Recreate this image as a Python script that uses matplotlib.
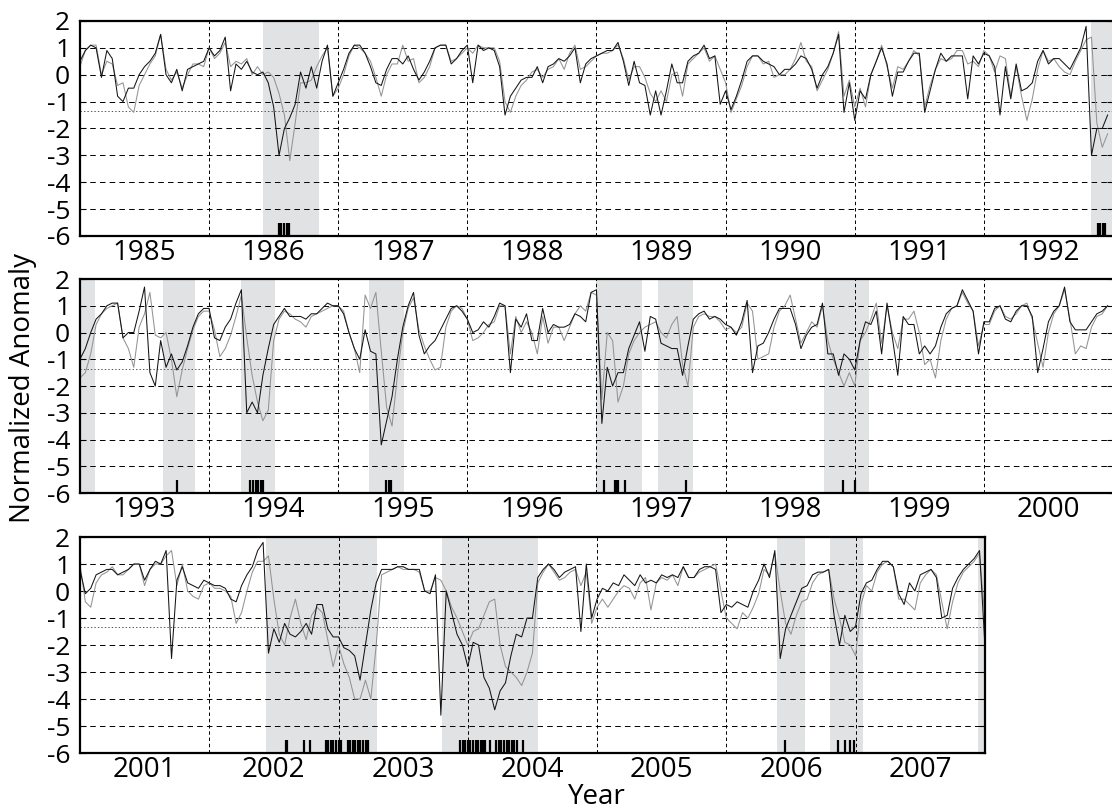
import numpy as np
import matplotlib
matplotlib.use('Agg')
import matplotlib.pyplot as plt

plt.rcParams['font.family'] = ['Open Sans', 'DejaVu Sans']
plt.rcParams['axes.unicode_minus'] = False
plt.rcParams['lines.scale_dashes'] = False

PER_YEAR = 24  # semi-monthly samples

# --- panel 1: 1985-1992 ---
black1 = [
    0.5, 0.9, 1.1, 1.0, -0.1, 0.9, 0.6, -0.8, -1.0, -0.5, -0.5, 0.0, 0.3, 0.5, 0.8, 1.5, 0.0, -0.3, 0.2, -0.6, 0.2, 0.3, 0.4, 0.5,
    1.0, 0.7, 0.9, 1.4, -0.6, 0.4, 0.2, 0.5, 0.1, 0.0, 0.1, -0.3, -1.2, -3.0, -2.0, -1.6, -1.1, 0.1, -0.5, 0.3, -0.5, 0.5, 1.1, -0.8,
    -0.3, 0.2, 0.8, 1.1, 1.1, 0.8, 0.3, -0.3, -0.4, 0.2, 0.6, 0.6, 0.4, 0.7, 0.2, -0.2, 0.1, 0.5, 1.0, 1.1, 1.1, 0.4, 0.6, 0.9,
    1.1, -0.3, 1.1, 0.9, 1.0, 0.9, 0.3, -1.5, -0.8, -0.5, -0.2, -0.1, -0.1, 0.3, -0.3, 0.3, 0.4, 0.6, 0.5, 0.7, 1.0, -0.3, 0.4, 0.6,
    0.7, 0.8, 0.9, 0.9, 1.2, 0.5, -0.4, 0.5, -0.3, -0.4, -1.5, -0.6, -1.5, -0.6, 0.4, -0.3, -0.3, 0.5, 0.7, 0.8, 1.1, 0.6, 0.7, -1.1,
    -0.6, -1.3, -0.8, -0.2, 0.5, 0.7, 0.7, 0.5, 0.4, 0.3, 0.0, 0.2, 0.2, 0.4, 0.7, 0.6, 0.2, -0.5, 0.0, 0.3, 0.8, 1.5, -1.4, -0.3,
    -1.7, -0.6, -0.9, 0.0, 0.5, 1.0, 0.4, -0.8, 0.1, 0.1, 0.5, 0.8, 0.8, -1.4, -0.6, 0.2, 0.8, 0.5, 0.7, 0.7, 0.7, -0.9, 0.7, 0.4,
    0.8, 0.7, 0.3, -1.5, 0.3, -0.9, 0.4, -0.6, -0.5, -0.3, 0.5, 0.9, 0.4, 0.6, 0.6, 0.4, 0.2, 0.6, 1.0, 1.8, -3.0, -2.0, -2.0, -1.5,
]
gray1 = [
    0.3, 0.9, 1.1, 1.1, 0.0, 0.5, 0.4, -0.4, -0.3, -1.2, -1.4, -0.4, 0.0, 0.4, 0.7, 1.5, 0.2, -0.2, 0.1, -0.5, 0.0, 0.4, 0.4, 0.3,
    1.0, 0.6, 0.8, 1.2, 0.3, 0.5, 0.4, 0.6, 0.0, 0.3, 0.0, 0.1, -0.1, -0.7, -1.5, -3.2, -1.8, -0.3, -0.3, -0.2, 0.3, 0.7, 1.0, -0.8,
    -0.5, 0.0, 0.7, 1.1, 1.0, 0.8, 0.5, -0.1, -0.8, 0.0, 0.4, 0.4, 1.1, 0.5, 0.6, -0.3, -0.1, 0.3, 1.0, 1.1, 1.1, 0.5, 0.6, 0.8,
    1.0, 0.8, 1.1, 1.0, 1.0, 1.0, 0.5, -1.0, -1.4, -0.8, -0.4, -0.2, 0.1, 0.2, -0.1, 0.2, 0.3, 0.6, 0.2, 0.8, 1.1, 0.2, 0.3, 0.5,
    0.7, 0.8, 0.8, 0.9, 1.1, 0.6, -0.2, 0.3, 0.3, -0.1, -0.7, -1.0, -0.6, -1.0, 0.0, 0.1, -0.8, 0.4, 0.6, 0.8, 1.0, 0.5, 0.7, 0.2,
    -0.3, -1.4, -0.9, -0.4, 0.3, 0.7, 0.7, 0.4, 0.5, -0.1, 0.0, 0.0, 0.2, 0.6, 1.2, 0.5, 0.3, -0.6, -0.2, 0.2, 0.8, 1.6, -0.8, -0.2,
    -1.2, -0.5, -1.2, 0.0, 0.5, 1.1, 0.3, -0.5, 0.3, 0.2, 0.5, 0.9, 0.7, -1.2, -0.4, 0.2, 0.6, 0.5, 0.6, 0.9, 0.9, 0.4, 0.5, 0.3,
    0.9, 0.7, 0.1, 0.7, 0.6, -0.8, 0.3, -0.8, -1.7, -0.9, 0.2, 0.9, 0.5, 0.6, 0.3, 0.1, 0.0, 0.5, 0.9, 1.3, 1.4, -1.8, -2.7, -2.2,
]
shade1 = [(1986.42, 1986.85), (1992.83, 1993.0)]
events1 = [1986.54, 1986.56, 1986.58, 1986.60, 1986.62, 1992.88, 1992.90, 1992.92, 1992.94]

# --- panel 2: 1993-2000 ---
black2 = [
    -1.0, -0.6, 0.0, 0.5, 0.7, 1.0, 1.1, 1.1, -0.2, 0.0, 0.0, 0.8, 1.7, -1.5, -2.0, -0.3, -1.3, -0.8, -1.4, -1.1, -0.5, 0.2, 0.7, 0.9,
    0.9, -0.2, -0.3, 0.2, 0.5, 1.1, 1.6, -3.0, -2.6, -3.0, -1.6, -0.6, 0.3, 0.6, 0.9, 0.6, 0.6, 0.6, 0.5, 0.7, 0.7, 0.9, 1.1, 1.0,
    1.0, 0.7, 0.0, -0.6, -1.0, 0.1, -0.7, -0.8, -4.2, -3.3, -2.4, -1.0, 0.2, 1.0, 1.5, -0.1, -0.8, -0.5, -0.3, 0.1, 0.5, 0.9, 1.0, 0.8,
    0.5, 0.0, 0.1, 0.4, 0.2, 0.6, 1.1, 1.0, -1.5, 0.5, 0.2, 0.7, -0.3, -0.3, 0.9, 0.0, 0.3, 0.2, 0.2, 0.3, 0.7, 0.6, 0.4, 1.5,
    1.6, -3.4, -1.3, -2.0, -1.5, -1.5, -0.6, -0.1, 0.4, -0.7, 0.6, 0.5, -0.4, -0.5, -0.6, -0.6, -1.6, -0.5, 0.5, 0.7, 0.8, 0.5, 0.6, 0.5,
    0.3, 0.2, -0.1, 0.4, 1.2, -1.5, -0.5, -0.4, 0.0, 0.5, 0.9, 0.9, 0.9, 0.3, -0.6, -0.1, 0.2, 0.3, 1.1, -0.8, -0.8, -1.6, -0.8, -1.0,
    -1.4, -0.3, 0.4, 0.3, 0.8, -0.8, 1.1, -0.2, -1.6, 0.6, 0.3, 0.3, -0.8, -0.5, -0.8, -0.5, 0.2, 0.7, 0.9, 1.0, 1.6, 1.2, 0.8, -0.8,
    0.4, 0.4, 0.9, 1.0, 0.5, 0.4, 0.8, 1.0, 1.0, 0.6, -1.5, -0.6, 0.4, 0.8, 1.0, 1.7, 0.4, 0.1, 0.1, 0.1, 0.4, 0.7, 0.8, 1.0,
]
gray2 = [
    -1.7, -1.5, -0.8, 0.3, 0.7, 0.9, 1.0, 1.1, -0.2, -0.6, -1.3, 0.2, 0.7, 1.5, -0.1, -0.2, 0.0, -1.0, -2.4, -1.4, -0.6, 0.1, 0.6, 0.8,
    0.8, 0.1, -0.9, -0.6, -0.1, 0.6, 1.4, -0.2, -1.6, -2.6, -3.3, -2.9, -0.3, 0.5, 0.8, 0.7, 0.5, 0.4, 0.2, 0.6, 0.7, 0.8, 0.9, 1.0,
    1.0, 0.8, 0.0, -0.6, -1.5, 1.4, 0.9, 1.5, -0.7, -2.8, -3.5, -1.6, 0.0, 0.9, 1.3, 0.1, -0.5, -1.0, -1.4, -1.3, 0.2, 0.8, 1.0, 0.9,
    0.5, -0.3, -0.2, 0.0, 0.3, 0.4, 1.0, 1.0, -0.8, 0.6, 0.0, 0.4, 0.0, -0.8, 0.6, -0.4, 0.2, 0.2, -0.3, 0.2, 0.7, 1.0, 0.8, 1.5,
    1.4, -2.5, 0.0, -0.3, -2.6, -2.0, -0.8, -0.3, 0.0, 0.2, 0.3, 0.4, 0.0, -0.2, 0.3, 0.6, -1.2, -2.0, 0.2, 0.6, 0.7, 0.6, 0.6, 0.4,
    0.1, 0.2, 0.0, 0.2, 1.1, 0.8, -1.0, -0.9, -0.8, 0.2, 0.8, 1.0, 1.4, 0.5, -0.4, 0.0, 0.4, 0.2, 1.0, -0.3, -1.0, -1.5, -2.0, -1.5,
    -2.0, -0.3, 0.0, 0.5, 1.1, -0.4, 1.0, 0.0, -0.6, 0.5, 0.5, 0.8, 0.0, -1.2, -1.0, -1.7, -0.3, 0.5, 0.9, 1.0, 1.5, 1.1, 0.8, -0.5,
    0.3, 0.3, 0.8, 1.0, 0.6, 0.5, 0.7, 1.0, 1.1, 0.5, -0.4, -1.3, 0.0, 0.7, 1.0, 1.6, 0.5, -0.8, -0.5, -0.6, 0.2, 0.6, 0.7, 1.0,
]
shade2 = [(1993.0, 1993.12), (1993.64, 1993.89), (1994.25, 1994.51), (1995.24, 1995.51),
          (1997.0, 1997.35), (1997.48, 1997.75), (1998.76, 1999.11)]
events2 = [1993.75, 1994.32, 1994.34, 1994.36, 1994.38, 1994.40, 1994.42, 1995.37, 1995.39, 1995.41,
           1997.06, 1997.14, 1997.155, 1997.17, 1997.22, 1997.69, 1998.91, 1999.00]

# --- panel 3: 2001-2007 (last value = end of 2007) ---
black3 = [
    0.8, -0.1, 0.1, 0.6, 0.7, 0.8, 0.8, 0.6, 0.7, 0.8, 1.0, 1.0, 0.4, 0.8, 1.1, 1.0, 1.5, -2.5, 0.4, 0.9, 0.3, 0.2, 0.1, 0.4,
    0.3, 0.2, 0.2, 0.1, -0.3, -0.4, 0.2, 0.6, 0.9, 1.5, 1.8, -2.3, -1.4, -1.9, -1.2, -1.6, -1.7, -1.5, -1.2, -1.6, -0.5, -0.5, -1.4, -1.7,
    -1.7, -2.1, -2.2, -2.4, -3.3, -2.0, -0.7, 0.3, 0.8, 0.8, 0.8, 0.9, 0.9, 0.8, 0.8, 0.8, 0.0, -0.1, 0.6, -4.6, 0.0, -0.8, -1.6, -2.0,
    -2.8, -1.9, -2.0, -3.2, -3.6, -4.4, -3.7, -3.4, -2.4, -1.6, -1.7, -1.0, -1.0, 0.5, 0.8, 1.0, 0.8, 0.5, 0.7, 0.8, 0.9, -1.5, 1.0, -1.0,
    -0.3, 0.1, 0.0, 0.3, 0.2, 0.6, 0.4, 0.2, 0.6, 0.3, 0.4, 0.3, 0.6, 0.5, 0.6, 0.5, 0.9, 0.5, 0.5, 0.8, 0.9, 0.9, 0.8, -0.8,
    -0.5, -0.6, -0.4, -0.5, -0.6, 0.0, 0.4, 1.0, 0.5, 1.5, -2.5, -1.4, -0.9, -0.4, 0.1, 0.2, 0.6, 0.7, 0.7, 0.8, -0.9, -2.0, -0.9, -1.5,
    -1.3, -0.1, 0.3, 0.4, 0.8, 1.1, 1.1, 0.9, -0.1, -0.5, 0.3, 0.0, 0.6, 0.7, 0.8, 0.5, -1.0, -0.9, 0.1, 0.5, 0.8, 1.0, 1.2, 1.5,
    -2.0,
]
gray3 = [
    1.0, -0.4, -0.6, 0.3, 0.6, 0.7, 0.9, 0.6, 0.6, 0.8, 1.0, 1.0, 0.2, 0.8, 1.0, 1.0, 1.3, 1.5, 0.2, 1.0, 0.0, -0.2, -0.3, 0.2,
    0.3, 0.1, 0.1, 0.0, -0.2, -1.2, -0.8, 0.0, 0.7, 1.1, 1.1, 1.3, -0.3, -1.6, -2.0, -1.0, -0.3, -1.2, -1.8, -0.9, -0.6, -0.8, -1.8, -2.8,
    -2.0, -2.7, -3.2, -4.0, -4.0, -3.3, -4.0, -2.0, 0.6, 0.7, 0.8, 0.9, 0.8, 0.8, 0.8, 0.7, 0.0, 0.0, 0.5, 0.4, 0.0, -0.6, -1.0, -1.5,
    -2.0, -1.5, -1.4, -0.9, -0.4, -0.3, -2.0, -2.8, -3.0, -3.2, -3.5, -3.0, -2.3, 0.3, 0.7, 1.0, 0.7, 0.4, 0.5, 0.7, 0.8, 0.2, 0.7, -1.2,
    -0.6, -0.3, -0.6, -0.3, 0.0, 0.2, 0.1, -0.3, 0.3, 0.5, -0.7, 0.3, 0.5, 0.4, 0.6, 0.2, 0.9, 0.5, 0.5, 0.7, 0.8, 0.9, 1.0, 0.0,
    -1.0, -1.2, -1.4, -0.8, -1.0, -0.6, -0.1, 0.8, 0.6, 1.4, 0.0, -1.2, -1.6, -0.9, -0.4, -0.3, 0.3, 0.6, 0.7, 0.8, -0.3, -1.0, -1.9, -2.0,
    -2.4, -0.5, 0.2, 0.0, 0.7, 1.0, 1.1, 0.9, -0.3, -0.3, -0.5, -0.7, 0.3, 0.6, 0.8, 0.6, -0.4, -1.4, -0.4, 0.3, 0.7, 0.9, 1.1, 1.4,
    -1.0,
]
shade3 = [(2002.44, 2003.30), (2003.80, 2004.54), (2006.39, 2006.61), (2006.80, 2007.06), (2007.95, 2008.0)]
events3 = [2002.59, 2002.60, 2002.73, 2002.78,
           2002.90, 2002.92, 2002.94, 2002.96, 2002.98, 2003.00, 2003.02,
           2003.07, 2003.09, 2003.11, 2003.13, 2003.15, 2003.17, 2003.19, 2003.21, 2003.23,
           2003.94, 2003.96, 2003.98, 2004.00, 2004.02, 2004.04, 2004.06, 2004.08, 2004.10, 2004.12, 2004.135,
           2004.17, 2004.22, 2004.24, 2004.26, 2004.28, 2004.30, 2004.32, 2004.34, 2004.36, 2004.38, 2004.43,
           2006.45, 2006.86, 2006.92, 2006.955, 2006.985]

THRESH = -1.35

panels = [
    (1985, 1993, black1, gray1, shade1, events1, [0.0719, 0.7083, 0.929, 0.2658]),
    (1993, 2001, black2, gray2, shade2, events2, [0.0719, 0.3906, 0.929, 0.2645]),
    (2001, 2008, black3, gray3, shade3, events3, [0.0719, 0.0692, 0.8138, 0.2670]),
]

fig = plt.figure(figsize=(11.12, 8.09), dpi=100)

for y0, y1, blk, gry, shades, evts, rect in panels:
    ax = fig.add_axes(rect)
    for s, e in shades:
        ax.axvspan(s, e, color='#e1e2e4', lw=0, zorder=0)
    t = y0 + np.arange(len(blk)) / PER_YEAR
    ax.plot(t, blk, color='#151515', lw=0.75, zorder=3)
    ax.plot(t, gry, color='#939393', lw=0.75, zorder=2)
    ax.vlines(evts, -6, -5.5, color='k', lw=1.6, zorder=4)
    ax.axhline(THRESH, color='#555555', lw=0.7, ls=(0, (1, 1.5)), zorder=1)
    ax.set_xlim(y0, y1)
    ax.set_ylim(-6, 2)
    ax.set_yticks(range(-6, 3))
    ax.set_yticklabels([str(v) for v in range(-6, 3)])
    ax.set_xticks(range(y0 + 1, y1))
    ax.set_xticklabels([])
    mids = np.arange(y0, y1) + 0.5
    ax.set_xticks(mids, minor=True)
    ax.set_xticklabels([str(y) for y in range(y0, y1)], minor=True)
    ax.grid(axis='y', color='k', lw=0.7, ls=(0, (4, 3)), zorder=1)
    ax.grid(axis='x', which='major', color='k', lw=0.7, ls=(0, (2.5, 2)), zorder=1)
    ax.tick_params(axis='x', which='both', length=0)
    ax.tick_params(axis='x', which='minor', labelsize=20, pad=2)
    ax.tick_params(axis='y', direction='in', length=4, right=True, labelsize=19, pad=7)
    for sp in ax.spines.values():
        sp.set_linewidth(1.6)
        sp.set_zorder(5)

fig.text(0.021, 0.52, 'Normalized Anomaly', rotation=90, ha='center', va='center', fontsize=20)
fig.text(0.537, 0.015, 'Year', ha='center', va='center', fontsize=20)

plt.savefig('out.png', dpi=100, facecolor='white')
